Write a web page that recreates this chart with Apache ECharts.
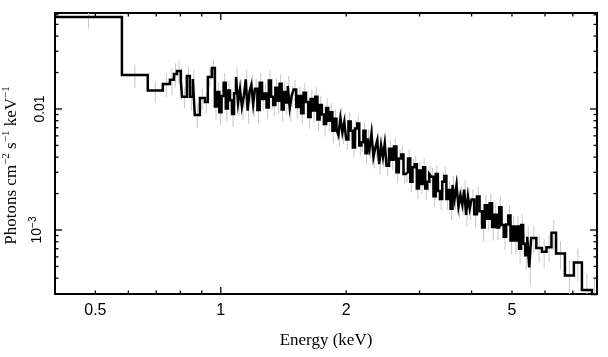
<!DOCTYPE html>
<html><head><meta charset="utf-8">
<script src="https://cdn.jsdelivr.net/npm/echarts@6/dist/echarts.min.js"></script>
<style>html,body{margin:0;padding:0;background:#fff}#c{width:608px;height:357px}</style>
</head><body><div id="c"></div>
<script>
// Energy bin edges (keV)
const binEdges = [
0.400,0.579,0.668,0.726,0.755,0.772,0.785,0.802,0.807,0.829,
0.843,0.857,0.866,0.891,0.916,0.931,0.952,
0.968,0.980,0.992,1.004,1.016,1.028,1.040,1.052,1.064,1.076,
1.088,1.100,1.112,1.124,1.136,1.148,1.160,1.172,1.184,1.196,
1.208,1.224,1.240,1.256,1.272,1.288,1.304,1.320,1.336,1.352,
1.368,1.384,1.400,1.416,1.432,1.448,1.464,1.480,
1.496,1.517,1.538,1.559,1.580,1.601,1.622,1.643,1.664,1.685,
1.706,1.727,1.748,1.769,1.790,1.811,1.832,1.853,1.874,1.895,
1.916,1.937,1.958,1.979,
2.000,2.025,2.050,2.075,2.100,2.125,2.150,2.175,2.200,2.225,
2.250,2.275,2.300,2.325,2.350,2.375,2.400,2.425,2.450,2.475,
2.500,2.535,2.570,2.605,2.640,2.675,2.710,2.745,2.780,2.815,
2.850,2.885,2.920,2.955,2.990,3.025,3.060,3.095,3.130,3.165,
3.200,3.240,3.280,3.320,3.360,3.400,3.440,3.480,3.520,3.560,
3.600,3.640,3.680,3.720,3.760,3.800,3.840,3.880,3.920,3.960,
4.00,4.06,4.12,4.18,4.24,4.30,4.36,4.42,4.48,4.54,
4.60,4.66,4.72,4.78,4.84,4.90,4.96,5.02,5.08,5.14,
5.20,5.26,5.32,5.38,5.44,
5.50,5.56,5.72,5.90,6.05,6.22,6.38,6.70,7.04,7.36,7.78,8.00];

// Flux per bin (photons cm^-2 s^-1 keV^-1)
const flux = [
0.0575,0.0191,0.0142,0.0161,0.0174,0.0195,0.0206,0.0170,0.0126,0.0187,
0.0126,0.0177,0.0089,0.0123,0.0114,0.0184,0.0218,
0.0105,0.0138,0.0094,0.0128,0.0165,0.0101,0.0142,0.0118,0.0091,0.0135,
0.0184,0.0112,0.0146,0.0104,0.0128,0.0176,0.0097,0.0139,0.0158,0.0110,
0.0147,0.0098,0.0165,0.0121,0.0134,0.0103,0.0172,0.0126,0.0108,0.0150,
0.0117,0.0162,0.0099,0.0138,0.0113,0.0155,0.0102,0.0129,
0.0145,0.0104,0.0128,0.0092,0.0136,0.0114,0.0086,0.0121,0.0097,0.0126,
0.0082,0.0108,0.0090,0.0075,0.0102,0.0080,0.0094,0.0066,0.0083,0.0068,
0.0061,0.0084,0.0064,0.0078,
0.0056,0.0079,0.0066,0.0048,0.0069,0.0076,0.0050,0.0053,0.0066,0.0043,
0.0057,0.0047,0.0063,0.0040,0.0048,0.0055,0.0035,0.0050,0.0040,0.0052,
0.0034,0.0047,0.0038,0.0049,0.0030,0.0039,0.0042,0.0029,0.0030,0.0039,
0.0025,0.0033,0.0035,0.0022,0.0031,0.0024,0.0033,0.0022,0.0025,0.0029,
0.00275,0.0019,0.0029,0.0021,0.0018,0.0025,0.0028,0.0018,0.00214,0.0015,
0.00236,0.0018,0.00236,0.00156,0.00194,0.00162,0.00216,0.00133,0.0019,0.0015,
0.00179,0.00135,0.00189,0.00143,0.00105,0.00160,0.00124,0.00166,0.00106,0.00134,
0.00105,0.00154,0.00110,0.00088,0.00111,0.00132,0.00082,0.00107,0.00082,0.00107,
0.00070,0.00110,0.00077,0.00062,0.00088,
0.00049,0.00086,0.00071,0.00066,0.00072,0.00095,0.00064,0.00042,0.00054,0.00032,0.000292];

// Relative 1-sigma errors per bin
const relErr = [
0.20,0.22,0.20,0.22,0.25,0.22,0.22,0.30,0.20,0.20,
0.22,0.20,0.22,0.20,0.20,0.18,0.18,
0.22,0.20,0.22,0.21,0.20,0.22,0.21,0.20,0.22,0.21,
0.20,0.22,0.21,0.22,0.20,0.21,0.22,0.20,0.21,0.22,
0.21,0.22,0.20,0.21,0.22,0.20,0.21,0.22,0.20,0.21,
0.22,0.20,0.21,0.22,0.20,0.21,0.22,0.20,
0.20,0.21,0.20,0.19,0.20,0.21,0.20,0.19,0.20,0.21,
0.20,0.19,0.20,0.21,0.20,0.19,0.20,0.21,0.20,0.19,
0.20,0.21,0.20,0.19,
0.18,0.19,0.18,0.17,0.18,0.19,0.18,0.17,0.18,0.19,
0.18,0.17,0.18,0.19,0.18,0.17,0.18,0.19,0.18,0.17,
0.18,0.19,0.18,0.17,0.18,0.19,0.18,0.17,0.18,0.19,
0.18,0.17,0.18,0.19,0.18,0.17,0.18,0.19,0.18,0.17,
0.19,0.18,0.19,0.18,0.19,0.20,0.19,0.18,0.19,0.20,
0.19,0.18,0.19,0.20,0.19,0.18,0.19,0.20,0.19,0.20,
0.21,0.22,0.21,0.22,0.24,0.22,0.21,0.22,0.23,0.22,
0.21,0.22,0.23,0.22,0.21,0.22,0.23,0.22,0.23,0.22,
0.24,0.22,0.23,0.24,0.23,
0.30,0.25,0.25,0.27,0.25,0.28,0.26,0.32,0.30,0.35,0.35];

const xRange = [0.4, 8];
const yRange = [0.000296, 0.0621];
const xLabelValues = [0.5, 1, 2, 5];
const xLabelTexts = ['0.5', '1', '2', '5'];
const xMajorTicks = [1];
const xMinorTicks = [0.5, 0.6, 0.7, 0.8, 0.9, 2, 3, 4, 5, 6, 7];
const yLabelValues = [0.001, 0.01];
const yLabelTexts = ['{m|10}{s|\u22123}', '0.01'];
const yMajorTicks = [0.001, 0.01];
const yMinorTicks = [0.0004, 0.0005, 0.0006, 0.0007, 0.0008, 0.0009,
  0.002, 0.003, 0.004, 0.005, 0.006, 0.007, 0.008, 0.009,
  0.02, 0.03, 0.04, 0.05, 0.06];

// step line points
const stepPts = [];
for (let i = 0; i < flux.length; i++) {
  stepPts.push([binEdges[i], flux[i]]);
  stepPts.push([binEdges[i + 1], flux[i]]);
}
// error bars at geometric bin centers
const errData = flux.map((v, i) => [Math.sqrt(binEdges[i] * binEdges[i + 1]), v * (1 - relErr[i]), v * (1 + relErr[i])]);

const MAJ = 7, MIN = 3.5, TW = 1.3;
function xTickRender(len) {
  return function (params, api) {
    const v = api.value(0);
    const b = api.coord([v, yRange[0]]), t = api.coord([v, yRange[1]]);
    return { type: 'group', children: [
      { type: 'line', shape: { x1: b[0], y1: b[1], x2: b[0], y2: b[1] - len }, style: { stroke: '#000', lineWidth: TW } },
      { type: 'line', shape: { x1: t[0], y1: t[1], x2: t[0], y2: t[1] + len }, style: { stroke: '#000', lineWidth: TW } }
    ] };
  };
}
function yTickRender(len) {
  return function (params, api) {
    const v = api.value(1);
    const l = api.coord([xRange[0], v]), r = api.coord([xRange[1], v]);
    return { type: 'group', children: [
      { type: 'line', shape: { x1: l[0], y1: l[1], x2: l[0] + len, y2: l[1] }, style: { stroke: '#000', lineWidth: TW } },
      { type: 'line', shape: { x1: r[0], y1: r[1], x2: r[0] - len, y2: r[1] }, style: { stroke: '#000', lineWidth: TW } }
    ] };
  };
}

const chart = echarts.init(document.getElementById('c'), null, { renderer: 'canvas' });
const SANS = '"Liberation Sans", Arial, sans-serif';
const SERIF = '"Liberation Serif", "Times New Roman", serif';
chart.setOption({
  animation: false,
  backgroundColor: '#fff',
  grid: { left: 55, right: 11, top: 13, bottom: 63, outerBoundsMode: 'none', containLabel: false,
          show: true, borderColor: '#000', borderWidth: 2, backgroundColor: 'transparent' },
  xAxis: {
    type: 'log', logBase: 10, min: xRange[0], max: xRange[1],
    axisLine: { show: false }, axisTick: { show: false }, splitLine: { show: false }, minorTick: { show: false },
    axisLabel: {
      customValues: xLabelValues, margin: 9, color: '#000', fontFamily: SANS, fontSize: 16,
      formatter: v => { const i = xLabelValues.findIndex(a => Math.abs(a - v) < 1e-9); return i >= 0 ? xLabelTexts[i] : ''; }
    },
    name: 'Energy (keV)', nameLocation: 'middle', nameGap: 38,
    nameTextStyle: { color: '#000', fontFamily: SERIF, fontSize: 17 }
  },
  yAxis: {
    type: 'log', logBase: 10, min: yRange[0], max: yRange[1],
    axisLine: { show: false }, axisTick: { show: false }, splitLine: { show: false }, minorTick: { show: false },
    axisLabel: {
      customValues: yLabelValues, rotate: 90, margin: 8, color: '#000', fontFamily: SANS, fontSize: 14,
      formatter: v => { const i = yLabelValues.findIndex(a => Math.abs(a - v) / a < 1e-6); return i >= 0 ? yLabelTexts[i] : ''; },
      rich: {
        m: { fontFamily: SANS, fontSize: 14, color: '#000' },
        s: { fontFamily: SANS, fontSize: 10, color: '#000', padding: [0, 0, 9, 0] }
      }
    },
    name: '{t|Photons cm}{s|\u22122}{t| s}{s|\u22121}{t| keV}{s|\u22121}',
    nameLocation: 'middle', nameGap: 24, nameRotate: 90,
    nameTextStyle: {
      color: '#000', fontFamily: SERIF, fontSize: 17, padding: [0, 24, 0, 0],
      rich: {
        t: { fontFamily: SERIF, fontSize: 17, color: '#000' },
        s: { fontFamily: SERIF, fontSize: 11, color: '#000', padding: [0, 0, 10, 0] }
      }
    }
  },
  series: [
    {
      type: 'custom', name: 'err', data: errData, clip: true, z: 1, silent: true,
      encode: { x: 0, y: [1, 2] },
      renderItem: function (params, api) {
        const x = api.value(0);
        const p1 = api.coord([x, api.value(1)]), p2 = api.coord([x, api.value(2)]);
        return { type: 'line', shape: { x1: p1[0], y1: p1[1], x2: p2[0], y2: p2[1] }, style: { stroke: '#c8c8c8', lineWidth: 1 } };
      }
    },
    {
      type: 'line', data: stepPts, showSymbol: false, symbol: 'none', clip: true, z: 3,
      lineStyle: { color: '#000', width: 2.5, join: 'miter' }
    },
    { type: 'custom', data: xMajorTicks.map(v => [v, yRange[0]]), renderItem: xTickRender(MAJ), clip: false, z: 5, silent: true },
    { type: 'custom', data: xMinorTicks.map(v => [v, yRange[0]]), renderItem: xTickRender(MIN), clip: false, z: 5, silent: true },
    { type: 'custom', data: yMajorTicks.map(v => [xRange[0], v]), renderItem: yTickRender(MAJ), clip: false, z: 5, silent: true },
    { type: 'custom', data: yMinorTicks.map(v => [xRange[0], v]), renderItem: yTickRender(MIN), clip: false, z: 5, silent: true }
  ]
});
</script>
</body></html>
